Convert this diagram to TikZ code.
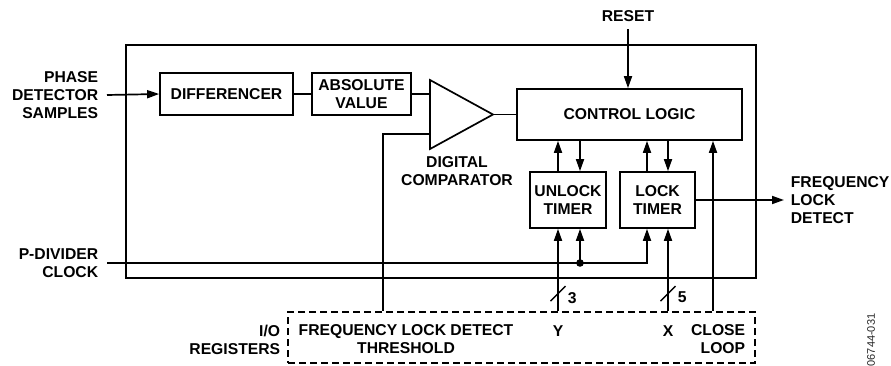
\documentclass[tikz,border=0pt]{standalone}
\usepackage{fontspec}
\setmainfont{Liberation Sans}
\usetikzlibrary{arrows.meta}

\begin{document}
\begin{tikzpicture}[x=1pt,y=-1pt,line width=1.7pt,
    lab/.style={font=\fontsize{15.7}{18}\selectfont\bfseries,inner sep=0pt},
    blk/.style={draw,lab,align=center},
    arr/.style={-{Triangle[length=12pt,width=8pt]}}]
  \useasboundingbox (0,0) rectangle (891,366);
  \node[draw,line width=2pt,minimum width=630pt,minimum height=233pt] (chip) at (441,161.5) {};
  \node[blk,minimum width=133pt,minimum height=42pt] (diff) at (226.5,94) {DIFFERENCER};
  \node[blk,minimum width=99pt,minimum height=42pt] (abs) at (361.5,94) {ABSOLUTE\\VALUE};
  \node[blk,minimum width=225pt,minimum height=51pt] (ctrl) at (629.5,114.5) {CONTROL LOGIC};
  \node[blk,minimum width=76pt,minimum height=56pt] (unlock) at (568,200) {UNLOCK\\TIMER};
  \node[blk,minimum width=75pt,minimum height=56pt] (lock) at (657.5,200) {LOCK\\TIMER};
  \draw[line join=miter] (430,80) -- (493,114.5) -- (430,149) -- cycle;
  \coordinate (cmpin1) at (430,94);
  \coordinate (cmpin2) at (430,134);
  \coordinate (cmpout) at (493,114.5);
  \node[lab,align=center] (dcmp) at (457,171) {DIGITAL\\COMPARATOR};
  \node[draw,dash pattern=on 7pt off 4pt,minimum width=467pt,minimum height=51pt,inner sep=0pt] (regs) at (521.5,337.5) {};
  \node[lab,align=center] (thr) at (406,339.5) {FREQUENCY LOCK DETECT\\THRESHOLD};
  \node[lab] (ylab) at (558,331) {Y};
  \node[lab] (xlab) at (668,331) {X};
  \node[lab,anchor=east,align=right] (cl) at (746,339.5) {CLOSE\\LOOP};
  \node[lab,anchor=east,align=right] (io) at (281,339.5) {I/O\\REGISTERS};
  \node[lab,anchor=east,align=right] (phase) at (99,95) {PHASE\\DETECTOR\\SAMPLES};
  \node[lab,anchor=east,align=right] (pdiv) at (99,263) {P-DIVIDER\\CLOCK};
  \node[lab] (reset) at (628,16) {RESET};
  \node[lab,anchor=west,align=left] (fld) at (790,200) {FREQUENCY\\LOCK\\DETECT};
  \node[font=\fontsize{11}{12}\selectfont,rotate=90,text=black!85,inner sep=0pt] (fig) at (871,340) {06744-031};

  \draw[arr] ([xshift=8pt]phase.east) -- (diff.west);
  \draw (diff.east) -- (abs.west);
  \draw (abs.east) -- (cmpin1);
  \draw (cmpout) -- (ctrl.west);
  \draw (cmpin2) -- ++(-47,0) coordinate (thrbend) -- (thrbend |- regs.north);
  \draw[arr] ([yshift=-7pt]reset.south) -- (reset.south |- ctrl.north);
  \foreach \tm/\u/\d in {unlock/558/580, lock/647/668} {
    \draw[arr] (\tm.north -| \u,0) -- (ctrl.south -| \u,0);
    \draw[arr] (ctrl.south -| \d,0) -- (\tm.north -| \d,0);
  }
  \draw[arr] ([xshift=8pt]pdiv.east) -| (lock.south -| 647,0);
  \coordinate (clktap) at (pdiv.east -| 580,0);
  \fill (clktap) circle (3.8pt);
  \draw[arr] (clktap) -- (unlock.south -| clktap);
  \draw[arr] (regs.north -| ylab) -- (unlock.south -| ylab);
  \draw[arr] (regs.north -| xlab) -- (lock.south -| xlab);
  \foreach \lb/\n in {ylab/3, xlab/5} {
    \path (regs.north -| \lb) ++(0,-17.5) coordinate (bus);
    \draw[line width=1.4pt] (bus) ++(-7.5,7.5) -- ++(15,-15);
    \node[lab,anchor=west] at ([xshift=9pt,yshift=-4pt]bus) {\n};
  }
  \draw[arr] (regs.north -| 713,0) -- (ctrl.south -| 713,0);
  \draw[arr] (lock.east) -- ([xshift=-6pt]fld.west);
\end{tikzpicture}
\end{document}
